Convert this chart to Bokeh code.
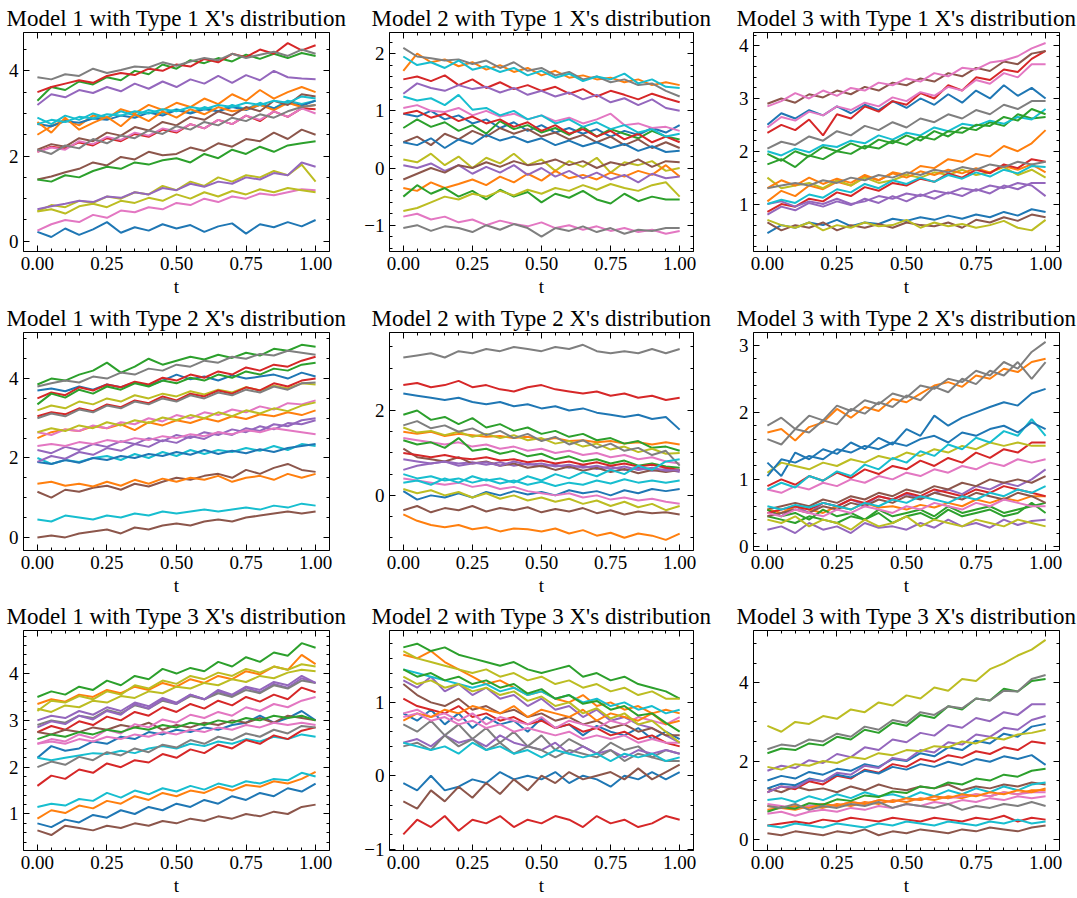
import numpy as np
from bokeh.plotting import figure
from bokeh.layouts import gridplot
from bokeh.models import Range1d, FixedTicker, LinearAxis, PrintfTickFormatter
from bokeh.embed import file_html
from bokeh.resources import INLINE

t_values = [0.00, 0.05, 0.10, 0.15, 0.20, 0.25, 0.30, 0.35, 0.40, 0.45, 0.50,
            0.55, 0.60, 0.65, 0.70, 0.75, 0.80, 0.85, 0.90, 0.95, 1.00]
x_ticks = [0.0, 0.25, 0.5, 0.75, 1.0]

m1_type1 = [
    "0.22 0.10 0.30 0.15 0.28 0.45 0.20 0.33 0.25 0.40 0.30 0.38 0.22 0.35 0.42 0.18 0.40 0.33 0.45 0.35 0.50",
    "2.50 2.70 2.85 2.72 2.95 2.88 3.10 3.00 3.20 3.08 3.25 3.15 3.35 3.22 3.45 3.30 3.55 3.35 3.50 3.62 3.50",
    "3.30 3.62 3.55 3.75 3.68 3.85 3.78 4.00 3.92 4.15 4.05 4.25 4.18 4.30 4.22 4.38 4.28 4.40 4.30 4.42 4.35",
    "3.50 3.62 3.70 3.78 3.72 3.88 3.95 3.90 4.05 4.00 4.15 4.10 4.28 4.20 4.40 4.32 4.50 4.40 4.65 4.48 4.60",
    "3.20 3.45 3.38 3.55 3.48 3.62 3.52 3.70 3.58 3.75 3.62 3.80 3.70 3.88 3.72 3.90 3.78 4.00 3.85 3.82 3.80",
    "1.45 1.52 1.62 1.70 1.85 1.78 1.98 1.92 2.10 2.02 2.05 2.20 2.12 2.30 2.22 2.40 2.35 2.55 2.40 2.62 2.50",
    "0.25 0.40 0.50 0.45 0.62 0.55 0.72 0.68 0.80 0.75 0.90 0.85 1.00 0.92 1.05 1.00 1.12 1.08 1.15 1.22 1.20",
    "3.85 3.80 3.92 3.88 4.05 3.95 4.02 4.10 4.08 4.20 4.12 4.22 4.30 4.25 4.40 4.30 4.38 4.45 4.35 4.50 4.40",
    "0.70 0.85 0.80 0.95 0.90 1.05 1.00 1.15 1.10 1.30 1.20 1.40 1.30 1.50 1.40 1.55 1.50 1.65 1.55 1.80 1.40",
    "2.90 2.75 2.95 2.85 3.00 2.90 3.05 2.95 3.08 3.00 3.10 3.02 3.15 3.05 3.20 3.10 3.25 3.12 3.30 3.22 3.30",
    "2.75 2.70 2.82 2.78 2.88 2.85 2.95 2.90 3.02 2.95 3.08 3.00 3.10 3.05 3.15 3.08 3.20 3.12 3.25 3.18 3.30",
    "2.80 2.55 2.90 2.62 2.78 2.92 2.70 2.98 2.82 3.05 2.90 3.10 2.98 3.15 3.05 3.10 3.20 3.08 3.25 3.15 3.20",
    "1.45 1.40 1.55 1.50 1.65 1.75 1.70 1.85 1.80 1.90 1.95 1.85 2.05 1.95 2.15 2.05 2.22 2.10 2.25 2.30 2.35",
    "2.10 2.22 2.18 2.32 2.25 2.42 2.35 2.52 2.45 2.62 2.55 2.75 2.65 2.85 2.75 2.95 2.82 3.05 2.92 3.12 3.10",
    "0.75 0.82 0.88 0.95 0.92 1.05 1.02 1.15 1.10 1.25 1.20 1.35 1.28 1.40 1.35 1.50 1.45 1.60 1.55 1.85 1.75",
    "2.15 2.28 2.22 2.42 2.35 2.55 2.48 2.68 2.60 2.80 2.72 2.92 2.85 3.05 2.95 3.15 3.05 3.30 3.20 3.45 3.40",
    "2.10 2.20 2.15 2.35 2.28 2.45 2.38 2.55 2.48 2.65 2.58 2.75 2.65 2.85 2.75 2.95 2.85 3.05 2.92 3.12 3.00",
    "2.15 2.05 2.25 2.18 2.40 2.30 2.48 2.42 2.60 2.52 2.70 2.62 2.80 2.72 2.90 2.82 2.98 2.90 3.05 3.15 3.20",
    "0.70 0.75 0.65 0.82 0.88 0.80 0.95 0.90 1.02 0.95 1.10 1.00 1.15 1.05 1.18 1.10 1.22 1.15 1.25 1.20 1.15",
    "2.75 2.85 2.80 2.92 2.88 2.98 2.95 3.05 3.00 3.10 3.05 3.15 3.10 3.20 3.15 3.25 3.20 3.30 3.25 3.40 3.35",
]

m2_type1 = [
    "0.95 0.90 1.00 0.85 0.92 0.78 0.85 0.70 0.80 0.65 0.75 0.62 0.70 0.60 0.68 0.55 0.65 0.58 0.70 0.62 0.75",
    "1.70 2.00 1.85 1.90 1.78 1.85 1.72 1.80 1.68 1.75 1.62 1.70 1.58 1.62 1.55 1.58 1.50 1.55 1.45 1.50 1.45",
    "0.70 0.85 0.72 0.80 0.65 0.75 0.60 0.82 0.68 0.75 0.62 0.70 0.58 0.72 0.55 0.68 0.60 0.52 0.65 0.55 0.50",
    "1.55 1.60 1.52 1.62 1.45 1.55 1.40 1.50 1.38 1.45 1.35 1.42 1.30 1.38 1.25 1.35 1.28 1.20 1.30 1.22 1.15",
    "1.30 1.48 1.40 1.35 1.45 1.38 1.42 1.32 1.40 1.28 1.35 1.25 1.32 1.20 1.28 1.15 1.22 1.10 1.20 1.05 1.00",
    "0.45 0.55 0.40 0.60 0.50 0.65 0.55 0.70 0.60 0.68 0.55 0.62 0.50 0.58 0.45 0.55 0.40 0.50 0.35 0.45 0.35",
    "1.05 1.10 1.00 0.98 1.05 0.92 1.00 0.90 0.95 0.85 0.92 0.82 0.88 0.78 0.85 0.95 0.75 0.78 0.70 0.72 0.65",
    "2.10 1.95 1.92 1.88 1.90 1.82 1.88 1.75 1.85 1.70 1.75 1.62 1.68 1.55 1.60 1.50 1.55 1.45 1.48 1.35 1.25",
    "0.15 0.10 0.25 0.05 0.20 0.00 0.18 0.08 0.25 0.05 0.15 -0.05 0.12 0.02 0.18 -0.08 0.10 0.05 0.12 -0.05 0.00",
    "1.95 1.80 1.85 1.75 1.88 1.72 1.78 1.68 1.75 1.62 1.70 1.58 1.65 1.52 1.60 1.55 1.65 1.48 1.55 1.42 1.40",
    "0.45 0.40 0.52 0.35 0.50 0.42 0.58 0.48 0.55 0.45 0.52 0.40 0.48 0.38 0.45 0.35 0.42 0.30 0.38 0.28 0.30",
    "-0.35 -0.40 -0.25 -0.35 -0.28 -0.20 -0.30 -0.15 -0.25 -0.10 -0.22 -0.05 -0.18 -0.12 -0.20 -0.08 -0.15 -0.05 -0.12 0.05 -0.15",
    "-0.50 -0.30 -0.45 -0.35 -0.50 -0.40 -0.55 -0.38 -0.50 -0.42 -0.60 -0.45 -0.52 -0.40 -0.55 -0.62 -0.45 -0.58 -0.50 -0.55 -0.55",
    "0.95 1.00 0.88 0.95 0.82 0.90 0.78 0.85 0.72 0.80 0.65 0.75 0.60 0.68 0.55 0.65 0.50 0.60 0.45 0.55 0.45",
    "0.05 0.00 0.08 -0.05 0.05 -0.10 0.02 -0.08 0.05 -0.12 0.00 -0.15 -0.05 -0.18 -0.08 -0.20 -0.12 -0.25 -0.10 -0.18 -0.15",
    "-0.20 -0.10 0.00 -0.08 0.05 0.00 0.10 0.02 0.12 0.05 0.08 0.15 0.05 0.12 0.00 0.10 0.05 0.15 0.02 0.12 0.10",
    "-0.85 -0.80 -0.90 -0.85 -0.95 -0.90 -1.00 -0.92 -0.98 -1.02 -0.95 -1.05 -1.00 -1.08 -1.02 -1.10 -1.05 -1.12 -1.08 -1.15 -1.10",
    "-1.05 -1.00 -1.10 -1.02 -1.05 -1.12 -1.00 -1.08 -0.98 -1.05 -1.20 -1.05 -1.10 -1.02 -1.12 -1.05 -1.15 -1.08 -1.10 -1.05 -1.05",
    "-0.75 -0.70 -0.60 -0.50 -0.55 -0.45 -0.50 -0.40 -0.48 -0.38 -0.45 -0.35 -0.40 -0.30 -0.38 -0.28 -0.35 -0.40 -0.30 -0.25 -0.50",
    "1.25 1.18 1.22 1.10 1.28 1.02 1.05 0.92 1.00 0.85 0.92 0.78 0.85 0.72 0.80 0.68 0.75 0.62 0.68 0.55 0.60",
]

m3_type1 = [
    "2.50 2.72 2.62 2.78 2.68 2.85 2.72 2.88 2.78 2.95 2.82 3.00 2.88 3.08 2.92 3.15 3.00 3.25 3.05 3.20 3.00",
    "1.05 1.25 1.15 1.35 1.28 1.42 1.35 1.52 1.45 1.60 1.55 1.72 1.68 1.85 1.80 1.95 1.90 2.10 2.00 2.15 2.40",
    "1.95 1.82 2.00 1.90 2.08 2.00 2.15 2.05 2.22 2.15 2.30 2.20 2.38 2.28 2.45 2.40 2.55 2.48 2.70 2.62 2.65",
    "2.35 2.50 2.40 2.60 2.30 2.70 2.62 2.85 2.75 2.95 2.88 3.10 3.00 3.25 3.15 3.40 3.35 3.55 3.50 3.75 3.90",
    "0.80 0.95 0.88 1.02 0.95 1.05 0.98 1.10 1.02 1.15 1.05 1.18 1.10 1.22 1.15 1.28 1.20 1.35 1.28 1.40 1.40",
    "2.90 3.00 2.92 3.08 3.02 3.15 3.08 3.22 3.15 3.30 3.25 3.38 3.32 3.48 3.42 3.58 3.52 3.70 3.65 3.85 3.90",
    "2.85 2.95 3.10 3.00 3.15 3.05 3.20 3.15 3.30 3.25 3.38 3.32 3.48 3.42 3.58 3.55 3.68 3.72 3.80 3.95 4.05",
    "2.05 2.18 2.12 2.28 2.20 2.38 2.30 2.48 2.40 2.55 2.45 2.62 2.55 2.70 2.62 2.78 2.70 2.88 2.80 2.95 2.95",
    "1.50 1.30 1.35 1.40 1.30 1.45 1.35 1.50 1.40 1.45 1.55 1.50 1.60 1.55 1.65 1.55 1.60 1.70 1.55 1.65 1.50",
    "2.00 1.92 2.05 1.98 2.12 2.08 2.20 2.15 2.30 2.22 2.35 2.30 2.45 2.38 2.52 2.48 2.58 2.52 2.65 2.60 2.80",
    "0.45 0.60 0.55 0.65 0.60 0.70 0.58 0.65 0.62 0.72 0.68 0.75 0.70 0.78 0.72 0.80 0.75 0.85 0.78 0.90 0.85",
    "1.30 1.45 1.35 1.50 1.38 1.48 1.40 1.55 1.45 1.58 1.50 1.62 1.55 1.65 1.58 1.68 1.60 1.72 1.65 1.75 1.60",
    "1.75 1.85 1.70 1.92 1.85 2.00 1.95 2.10 2.05 2.20 2.12 2.28 2.22 2.38 2.35 2.50 2.48 2.65 2.58 2.80 2.70",
    "0.85 1.00 0.95 1.10 1.05 1.22 1.15 1.32 1.25 1.40 1.35 1.48 1.42 1.58 1.50 1.65 1.58 1.75 1.68 1.85 1.80",
    "1.00 1.05 0.95 1.05 1.00 1.10 1.00 1.05 1.15 1.10 1.20 1.15 1.25 1.20 1.30 1.25 1.35 1.30 1.40 1.35 1.15",
    "0.65 0.50 0.60 0.55 0.65 0.50 0.60 0.55 0.62 0.55 0.65 0.60 0.58 0.65 0.55 0.70 0.65 0.75 0.68 0.80 0.75",
    "2.45 2.65 2.58 2.75 2.68 2.85 2.78 2.92 2.85 3.02 2.95 3.12 3.05 3.22 3.15 3.35 3.28 3.48 3.40 3.65 3.65",
    "1.30 1.35 1.40 1.35 1.45 1.40 1.50 1.45 1.55 1.50 1.60 1.55 1.65 1.60 1.70 1.65 1.75 1.70 1.80 1.75 1.80",
    "0.70 0.60 0.55 0.65 0.50 0.60 0.55 0.65 0.58 0.60 0.70 0.55 0.65 0.58 0.62 0.55 0.60 0.68 0.55 0.50 0.70",
    "1.00 1.08 1.02 1.18 1.12 1.28 1.22 1.38 1.30 1.45 1.38 1.50 1.42 1.55 1.48 1.60 1.52 1.65 1.58 1.72 1.70",
]

m1_type2 = [
    "3.70 3.75 3.68 3.80 3.72 3.85 3.78 3.90 3.82 3.95 4.10 3.98 4.05 3.95 4.08 4.00 4.05 4.10 4.00 4.15 4.05",
    "2.50 2.65 2.72 2.68 2.80 2.75 2.85 2.70 2.90 2.82 2.95 2.88 3.00 2.92 3.05 2.98 3.10 3.05 3.15 3.08 3.20",
    "3.85 4.00 3.95 4.10 4.20 4.40 4.15 4.30 4.50 4.35 4.45 4.55 4.48 4.60 4.52 4.65 4.58 4.75 4.70 4.85 4.80",
    "3.50 3.65 3.58 3.78 3.70 3.85 3.78 3.92 3.85 4.02 3.95 4.10 4.02 4.18 4.10 4.28 4.20 4.35 4.30 4.45 4.55",
    "2.20 2.12 2.28 2.20 2.35 2.28 2.42 2.35 2.50 2.42 2.58 2.50 2.65 2.58 2.72 2.65 2.80 2.72 2.88 2.85 2.95",
    "1.15 1.00 1.20 1.15 1.25 1.30 1.20 1.35 1.28 1.40 1.50 1.45 1.55 1.60 1.50 1.70 1.60 1.75 1.85 1.70 1.65",
    "2.65 2.58 2.72 2.68 2.82 2.75 2.90 2.85 3.00 2.92 3.08 3.00 3.15 3.08 3.22 3.15 3.30 3.22 3.38 3.35 3.45",
    "3.80 3.88 3.95 3.90 4.05 4.00 4.15 4.10 4.25 4.20 4.35 4.30 4.45 4.40 4.55 4.50 4.62 4.58 4.70 4.65 4.60",
    "3.20 3.32 3.25 3.42 3.35 3.50 3.42 3.58 3.50 3.62 3.55 3.68 3.60 3.72 3.65 3.78 3.70 3.82 3.75 3.88 3.85",
    "2.00 1.85 1.95 1.90 2.00 2.05 1.95 2.10 2.00 2.15 2.05 2.20 2.10 2.20 2.15 2.25 2.18 2.30 2.20 2.35 2.30",
    "1.90 1.85 1.95 1.88 2.00 1.95 2.05 2.00 2.10 2.05 2.15 2.08 2.20 2.10 2.18 2.12 2.22 2.15 2.25 2.30 2.35",
    "1.35 1.40 1.30 1.35 1.28 1.40 1.30 1.45 1.35 1.48 1.40 1.50 1.45 1.55 1.40 1.50 1.55 1.45 1.60 1.50 1.60",
    "3.35 3.62 3.52 3.72 3.62 3.80 3.72 3.88 3.80 3.95 3.88 4.02 3.95 4.10 4.02 4.18 4.10 4.25 4.20 4.35 4.40",
    "3.05 3.15 3.10 3.25 3.18 3.35 3.28 3.45 3.38 3.55 3.45 3.62 3.55 3.70 3.62 3.78 3.70 3.88 3.80 3.95 4.00",
    "1.90 2.05 1.98 2.15 2.08 2.25 2.18 2.35 2.28 2.45 2.38 2.55 2.48 2.65 2.58 2.75 2.68 2.85 2.80 2.95 3.00",
    "0.00 0.05 0.00 0.10 0.15 0.20 0.10 0.25 0.20 0.30 0.35 0.30 0.40 0.45 0.40 0.50 0.55 0.60 0.65 0.60 0.65",
    "2.30 2.35 2.30 2.40 2.35 2.45 2.40 2.50 2.45 2.55 2.50 2.60 2.55 2.65 2.60 2.70 2.65 2.75 2.70 2.65 2.60",
    "3.00 3.12 3.05 3.22 3.15 3.32 3.25 3.42 3.35 3.50 3.42 3.58 3.50 3.65 3.58 3.72 3.65 3.80 3.72 3.88 3.90",
    "2.65 2.75 2.68 2.82 2.75 2.90 2.82 2.95 2.88 3.02 2.95 3.08 3.00 3.15 3.05 3.20 3.12 3.25 3.18 3.32 3.40",
    "0.45 0.40 0.55 0.50 0.45 0.55 0.50 0.60 0.55 0.65 0.60 0.65 0.70 0.65 0.70 0.75 0.70 0.80 0.75 0.85 0.80",
]

m2_type2 = [
    "2.40 2.35 2.30 2.25 2.30 2.20 2.15 2.20 2.10 2.15 2.05 2.10 2.00 2.05 1.95 1.90 1.85 1.90 1.80 1.85 1.55",
    "1.50 1.45 1.50 1.40 1.45 1.42 1.38 1.40 1.35 1.38 1.30 1.35 1.28 1.30 1.25 1.28 1.22 1.25 1.20 1.25 1.20",
    "1.90 2.00 1.78 1.85 1.68 1.82 1.60 1.68 1.52 1.60 1.45 1.52 1.38 1.45 1.30 1.35 1.22 1.28 1.12 1.15 1.05",
    "2.60 2.65 2.55 2.60 2.70 2.55 2.60 2.50 2.45 2.55 2.60 2.50 2.45 2.40 2.45 2.35 2.40 2.30 2.35 2.25 2.30",
    "0.85 0.80 0.75 0.80 0.75 0.78 0.72 0.78 0.70 0.75 0.68 0.72 0.65 0.70 0.62 0.68 0.60 0.65 0.58 0.62 0.55",
    "1.10 0.90 0.85 0.80 0.90 0.75 0.80 0.70 0.75 0.65 0.70 0.60 0.68 0.58 0.65 0.55 0.62 0.52 0.60 0.55 0.60",
    "1.35 1.30 1.25 1.20 1.25 1.15 1.20 1.10 1.15 1.05 1.10 1.00 1.05 0.95 1.00 0.90 0.95 0.85 0.90 0.80 0.75",
    "3.25 3.30 3.35 3.25 3.40 3.35 3.45 3.40 3.50 3.45 3.40 3.50 3.45 3.55 3.40 3.35 3.40 3.35 3.45 3.35 3.45",
    "1.60 1.48 1.52 1.42 1.50 1.38 1.45 1.35 1.42 1.30 1.35 1.22 1.28 1.15 1.22 1.08 1.15 1.02 1.10 0.98 1.00",
    "0.50 0.40 0.45 0.35 0.40 0.30 0.38 0.28 0.35 0.25 0.32 0.22 0.30 0.25 0.35 0.28 0.38 0.30 0.35 0.30 0.35",
    "0.10 -0.10 0.00 -0.05 0.05 -0.05 0.08 0.00 0.10 0.02 0.08 0.00 0.12 0.05 0.10 0.00 0.12 0.05 0.15 0.10 0.15",
    "-0.45 -0.60 -0.70 -0.75 -0.70 -0.80 -0.75 -0.85 -0.78 -0.80 -0.85 -0.78 -0.90 -0.82 -0.95 -0.88 -1.00 -0.90 -0.95 -1.05 -0.90",
    "1.30 1.20 1.25 1.12 1.35 1.05 1.10 0.98 1.05 0.92 0.98 0.85 0.92 0.80 0.85 0.75 0.82 0.70 0.75 0.68 0.65",
    "1.00 0.95 0.90 0.95 0.88 0.85 0.90 0.82 0.85 0.78 0.82 0.75 0.80 0.72 0.78 0.70 0.75 0.68 0.72 0.65 0.60",
    "0.60 0.70 0.75 0.80 0.70 0.75 0.78 0.70 0.80 0.72 0.75 0.68 0.72 0.65 0.70 0.62 0.68 0.60 0.65 0.58 0.60",
    "-0.35 -0.25 -0.40 -0.30 -0.35 -0.25 -0.38 -0.30 -0.35 -0.28 -0.40 -0.32 -0.38 -0.30 -0.42 -0.35 -0.45 -0.38 -0.42 -0.40 -0.45",
    "0.40 0.35 0.30 0.25 0.30 0.20 0.25 0.15 0.20 0.10 0.05 0.00 0.05 -0.05 0.00 -0.10 -0.05 -0.12 -0.08 -0.15 -0.20",
    "1.65 1.75 1.58 1.65 1.50 1.58 1.42 1.52 1.35 1.45 1.28 1.38 1.20 1.30 1.12 1.22 1.05 1.12 0.95 1.05 0.70",
    "0.15 0.05 0.12 0.00 0.08 -0.05 0.05 -0.08 0.00 -0.12 -0.05 -0.15 -0.08 -0.20 -0.12 -0.25 -0.15 -0.28 -0.20 -0.35 -0.25",
    "0.30 0.35 0.25 0.40 0.30 0.45 0.35 0.40 0.30 0.45 0.35 0.50 0.40 0.55 0.45 0.60 0.50 0.70 0.60 0.80 0.85",
]

m3_type2 = [
    "1.25 1.05 1.40 1.30 1.45 1.38 1.55 1.45 1.62 1.52 1.75 1.65 1.95 1.80 1.92 2.00 2.08 2.15 2.10 2.28 2.35",
    "1.70 1.75 1.58 1.78 1.85 2.05 1.92 2.08 2.02 2.20 2.15 2.28 2.40 2.45 2.38 2.55 2.50 2.65 2.60 2.75 2.80",
    "0.45 0.40 0.35 0.45 0.40 0.35 0.45 0.40 0.50 0.35 0.45 0.50 0.40 0.55 0.45 0.50 0.55 0.45 0.50 0.65 0.50",
    "0.90 1.00 0.92 1.05 0.98 1.10 1.02 1.15 1.08 1.20 1.15 1.28 1.20 1.32 1.25 1.40 1.32 1.45 1.40 1.55 1.55",
    "0.55 0.45 0.60 0.50 0.65 0.60 0.70 0.62 0.75 0.70 0.78 0.72 0.80 0.85 0.78 0.90 0.85 0.95 0.90 1.00 1.15",
    "0.55 0.60 0.65 0.60 0.70 0.65 0.75 0.70 0.80 0.75 0.85 0.80 0.90 0.85 0.95 0.90 1.00 0.95 1.00 0.95 1.05",
    "0.85 0.80 0.90 0.85 0.95 0.90 1.00 0.95 1.05 1.00 1.10 1.05 1.15 1.10 1.20 1.15 1.25 1.20 1.30 1.25 1.30",
    "1.80 1.92 1.75 1.95 1.88 2.10 2.02 2.18 2.12 2.28 2.22 2.40 2.35 2.50 2.45 2.62 2.55 2.75 2.65 2.90 3.05",
    "1.10 1.25 1.20 1.15 1.25 1.20 1.30 1.25 1.35 1.30 1.40 1.35 1.45 1.40 1.50 1.45 1.55 1.50 1.55 1.50 1.50",
    "0.85 0.95 0.88 1.05 0.98 1.12 1.05 1.22 1.15 1.32 1.25 1.42 1.35 1.52 1.45 1.62 1.55 1.72 1.65 1.90 1.65",
    "1.05 1.30 1.25 1.35 1.30 1.45 1.40 1.50 1.45 1.55 1.50 1.60 1.65 1.55 1.70 1.65 1.75 1.80 1.70 1.85 1.75",
    "0.55 0.50 0.60 0.55 0.50 0.60 0.55 0.65 0.58 0.60 0.55 0.62 0.58 0.65 0.60 0.70 0.65 0.72 0.68 0.75 0.75",
    "0.55 0.45 0.50 0.40 0.55 0.45 0.50 0.40 0.55 0.45 0.50 0.55 0.45 0.60 0.50 0.55 0.60 0.50 0.55 0.60 0.65",
    "0.50 0.55 0.60 0.55 0.65 0.60 0.70 0.65 0.75 0.70 0.80 0.75 0.85 0.80 0.75 0.85 0.80 0.90 0.85 0.80 0.75",
    "0.25 0.30 0.20 0.35 0.25 0.30 0.20 0.35 0.28 0.30 0.25 0.35 0.28 0.40 0.30 0.35 0.28 0.40 0.32 0.38 0.40",
    "0.45 0.50 0.55 0.50 0.60 0.55 0.65 0.60 0.70 0.65 0.75 0.70 0.80 0.75 0.70 0.80 0.75 0.70 0.80 0.75 0.65",
    "0.50 0.45 0.55 0.50 0.45 0.55 0.50 0.60 0.55 0.50 0.60 0.55 0.65 0.60 0.55 0.65 0.60 0.70 0.65 0.60 0.60",
    "1.60 1.52 1.75 1.70 1.88 1.82 2.05 1.98 2.15 2.08 2.25 2.18 2.38 2.30 2.50 2.42 2.62 2.55 2.75 2.50 2.75",
    "0.40 0.35 0.45 0.30 0.40 0.35 0.25 0.40 0.30 0.35 0.45 0.30 0.40 0.35 0.30 0.40 0.35 0.30 0.40 0.35 0.30",
    "0.60 0.55 0.62 0.58 0.65 0.60 0.55 0.65 0.60 0.70 0.65 0.75 0.70 0.65 0.75 0.70 0.80 0.75 0.85 0.80 0.90",
]

m1_type3 = [
    "2.20 2.45 2.35 2.40 2.55 2.50 2.65 2.60 2.75 2.70 2.80 2.75 2.85 2.80 2.90 2.95 3.10 2.95 3.05 3.20 3.00",
    "3.35 3.45 3.40 3.55 3.50 3.65 3.58 3.72 3.65 3.80 3.72 3.88 3.80 3.95 3.88 4.05 3.98 4.15 4.08 4.40 4.20",
    "3.50 3.62 3.55 3.72 3.65 3.85 3.75 3.95 3.88 4.10 4.00 4.12 4.05 4.25 4.15 4.35 4.25 4.45 4.38 4.65 4.55",
    "2.75 2.88 2.80 2.98 2.90 3.08 3.00 3.18 3.10 3.28 3.18 3.35 3.25 3.42 3.32 3.50 3.40 3.55 3.45 3.70 3.60",
    "3.00 3.10 3.05 3.20 3.12 3.28 3.20 3.38 3.30 3.48 3.38 3.55 3.45 3.62 3.52 3.70 3.60 3.78 3.70 3.90 3.80",
    "2.75 2.70 2.80 2.75 2.85 2.80 2.90 2.85 2.95 2.80 2.90 2.85 2.95 2.90 3.00 2.95 3.05 2.95 3.10 3.05 3.00",
    "2.50 2.60 2.55 2.70 2.62 2.80 2.72 2.92 2.85 3.02 2.95 3.12 3.05 3.18 3.10 3.28 3.20 3.35 3.28 3.42 3.50",
    "2.90 3.00 2.95 3.10 3.05 3.22 3.15 3.32 3.25 3.42 3.35 3.52 3.45 3.58 3.50 3.65 3.58 3.75 3.68 3.85 3.80",
    "3.25 3.18 3.32 3.28 3.42 3.38 3.52 3.48 3.62 3.58 3.72 3.68 3.80 3.75 3.88 3.82 3.95 3.90 4.02 4.08 4.05",
    "2.20 2.15 2.20 2.25 2.30 2.28 2.35 2.30 2.40 2.45 2.40 2.50 2.45 2.55 2.50 2.60 2.55 2.65 2.60 2.70 2.65",
    "0.80 0.72 0.88 0.82 0.98 0.92 1.08 1.00 1.15 1.08 1.22 1.15 1.30 1.22 1.38 1.30 1.45 1.38 1.55 1.48 1.65",
    "0.90 1.08 1.02 1.18 1.12 1.28 1.22 1.38 1.30 1.45 1.38 1.50 1.45 1.58 1.50 1.62 1.58 1.70 1.65 1.75 1.90",
    "2.60 2.70 2.65 2.75 2.70 2.80 2.75 2.85 2.80 2.90 2.85 2.95 2.90 3.00 2.95 3.05 3.00 3.10 3.05 3.10 3.00",
    "1.60 1.82 1.75 1.95 1.88 2.08 2.00 2.15 2.10 2.28 2.20 2.38 2.30 2.48 2.40 2.58 2.50 2.68 2.60 2.78 2.85",
    "2.85 2.98 2.92 3.10 3.02 3.20 3.12 3.35 3.25 3.45 3.35 3.55 3.45 3.65 3.55 3.72 3.65 3.82 3.75 3.95 3.80",
    "0.65 0.55 0.75 0.70 0.65 0.75 0.70 0.80 0.75 0.85 0.80 0.90 0.85 0.95 0.90 1.00 0.95 1.05 1.00 1.15 1.20",
    "2.50 2.55 2.50 2.60 2.55 2.65 2.60 2.70 2.65 2.75 2.70 2.80 2.75 2.85 2.80 2.90 2.85 2.95 2.90 2.95 2.90",
    "2.00 2.12 2.05 2.22 2.15 2.32 2.25 2.40 2.32 2.48 2.42 2.58 2.50 2.65 2.58 2.72 2.65 2.80 2.72 2.88 2.85",
    "3.20 3.42 3.38 3.52 3.45 3.62 3.55 3.75 3.68 3.85 3.78 3.95 3.88 4.02 3.95 4.10 4.02 4.15 4.08 4.20 4.15",
    "1.15 1.22 1.18 1.32 1.28 1.45 1.35 1.50 1.42 1.55 1.48 1.60 1.52 1.65 1.58 1.70 1.65 1.75 1.72 1.88 1.80",
]

m2_type3 = [
    "0.85 0.75 0.90 0.70 0.85 0.65 0.80 0.70 0.75 0.60 0.78 0.65 0.70 0.55 0.68 0.60 0.55 0.65 0.50 0.60 0.50",
    "1.65 1.60 1.70 1.55 1.45 1.35 1.25 1.30 1.20 1.10 1.15 1.05 1.00 1.10 0.95 1.00 0.90 0.95 0.85 0.90 0.85",
    "1.75 1.80 1.70 1.75 1.65 1.60 1.55 1.50 1.55 1.45 1.40 1.45 1.50 1.35 1.40 1.30 1.35 1.25 1.20 1.15 1.05",
    "1.05 0.95 0.90 0.85 0.95 0.80 0.85 0.75 0.80 0.70 0.75 0.65 0.70 0.60 0.65 0.55 0.60 0.50 0.55 0.45 0.40",
    "1.30 1.20 1.35 1.15 1.25 1.10 1.20 1.05 1.10 0.95 1.05 0.90 0.95 0.80 0.90 0.75 0.80 0.70 0.65 0.55 0.45",
    "1.25 1.10 1.00 0.95 1.05 0.90 0.95 0.85 0.90 0.80 0.85 0.75 0.80 0.70 0.75 0.65 0.70 0.60 0.65 0.55 0.55",
    "0.85 0.90 0.80 0.85 0.75 0.85 0.70 0.80 0.75 0.70 0.80 0.65 0.75 0.70 0.65 0.75 0.70 0.80 0.75 0.70 0.80",
    "0.70 0.60 0.75 0.55 0.70 0.50 0.65 0.45 0.60 0.40 0.55 0.35 0.50 0.40 0.30 0.45 0.35 0.40 0.25 0.35 0.30",
    "1.70 1.60 1.55 1.50 1.45 1.40 1.45 1.35 1.40 1.30 1.35 1.25 1.30 1.20 1.25 1.15 1.20 1.10 1.15 1.05 1.05",
    "1.45 1.40 1.35 1.30 1.25 1.20 1.25 1.15 1.20 1.10 1.15 1.05 1.10 1.00 1.05 0.95 1.00 0.90 0.95 0.85 0.90",
    "-0.10 -0.20 0.00 -0.20 -0.15 -0.05 -0.10 0.05 -0.05 0.00 -0.05 0.05 -0.10 0.00 -0.05 -0.15 0.00 -0.05 0.05 -0.05 0.05",
    "0.75 0.85 0.80 0.90 0.85 0.95 0.90 0.85 0.95 0.80 0.90 0.85 0.80 0.90 0.75 0.85 0.80 0.75 0.85 0.70 0.75",
    "1.45 1.35 1.40 1.30 1.35 1.25 1.30 1.20 1.25 1.12 1.18 1.05 1.10 0.98 1.02 0.90 0.95 0.82 0.85 0.72 0.60",
    "-0.80 -0.60 -0.70 -0.55 -0.75 -0.60 -0.65 -0.55 -0.70 -0.60 -0.65 -0.55 -0.60 -0.70 -0.55 -0.65 -0.60 -0.70 -0.65 -0.55 -0.60",
    "0.45 0.50 0.40 0.55 0.45 0.50 0.40 0.55 0.45 0.40 0.35 0.45 0.30 0.40 0.30 0.35 0.25 0.35 0.30 0.35 0.30",
    "-0.35 -0.45 -0.20 -0.35 -0.15 -0.30 -0.10 -0.25 -0.05 -0.20 0.00 -0.10 0.05 -0.05 0.00 0.05 -0.05 0.10 -0.05 0.05 0.15",
    "0.80 0.85 0.75 0.80 0.70 0.75 0.65 0.70 0.60 0.65 0.60 0.55 0.60 0.50 0.55 0.50 0.55 0.45 0.50 0.45 0.45",
    "0.40 0.45 0.35 0.55 0.40 0.50 0.35 0.45 0.30 0.40 0.35 0.25 0.35 0.30 0.25 0.35 0.20 0.30 0.25 0.20 0.20",
    "1.35 1.25 1.30 1.20 1.25 1.15 1.20 1.10 1.15 1.02 1.08 0.95 1.00 0.85 0.92 0.78 0.85 0.70 0.75 0.60 0.45",
    "0.45 0.40 0.35 0.40 0.30 0.45 0.35 0.40 0.30 0.35 0.25 0.35 0.30 0.25 0.30 0.20 0.30 0.25 0.30 0.20 0.25",
]

m3_type3 = [
    "1.50 1.62 1.55 1.72 1.65 1.80 1.75 1.92 1.85 2.05 2.00 2.20 2.12 2.35 2.28 2.52 2.45 2.70 2.62 2.88 2.95",
    "0.85 0.80 0.75 0.85 0.80 0.90 0.85 0.95 0.90 1.00 0.95 1.05 1.00 1.10 1.05 1.15 1.10 1.20 1.15 1.25 1.25",
    "2.20 2.32 2.28 2.45 2.40 2.62 2.55 2.80 2.72 2.98 2.90 3.18 3.10 3.40 3.32 3.60 3.55 3.85 3.78 4.05 4.10",
    "1.20 1.35 1.28 1.48 1.40 1.62 1.55 1.78 1.70 1.92 1.85 2.05 1.98 2.15 2.08 2.25 2.18 2.35 2.28 2.50 2.45",
    "1.75 1.88 1.82 2.02 1.95 2.18 2.10 2.35 2.28 2.55 2.48 2.72 2.65 2.92 2.85 3.10 3.02 3.25 3.18 3.45 3.45",
    "1.30 1.20 1.35 1.25 1.30 1.20 1.35 1.25 1.40 1.30 1.25 1.35 1.30 1.40 1.25 1.35 1.30 1.40 1.35 1.45 1.40",
    "0.90 0.85 0.80 0.85 0.90 0.85 0.95 0.90 1.00 0.95 1.05 1.00 1.10 1.05 1.10 1.15 1.10 1.20 1.15 1.20 1.20",
    "2.30 2.42 2.38 2.55 2.50 2.70 2.62 2.88 2.80 3.05 2.98 3.25 3.18 3.40 3.35 3.60 3.55 3.80 3.78 4.10 4.20",
    "2.90 2.75 3.00 2.95 3.15 3.08 3.32 3.25 3.50 3.42 3.68 3.60 3.88 3.80 4.10 4.05 4.35 4.50 4.70 4.85 5.10",
    "1.00 1.05 0.95 1.10 1.00 1.15 1.05 1.20 1.10 1.15 1.05 1.20 1.10 1.25 1.15 1.30 1.20 1.35 1.25 1.40 1.45",
    "1.30 1.42 1.38 1.55 1.48 1.65 1.58 1.75 1.68 1.85 1.78 1.92 1.85 1.98 1.90 2.05 1.98 2.12 2.05 2.15 1.90",
    "0.75 0.80 0.85 0.80 0.90 0.85 0.95 0.90 1.00 0.95 1.05 1.00 1.10 1.05 1.15 1.10 1.20 1.15 1.25 1.20 1.30",
    "0.70 0.82 0.78 0.92 0.88 1.02 0.98 1.12 1.08 1.22 1.18 1.35 1.30 1.45 1.40 1.55 1.50 1.65 1.60 1.75 1.80",
    "0.35 0.40 0.45 0.40 0.50 0.45 0.55 0.50 0.45 0.55 0.50 0.45 0.55 0.50 0.45 0.55 0.50 0.60 0.45 0.55 0.50",
    "1.20 1.35 1.32 1.52 1.48 1.70 1.65 1.88 1.82 2.08 2.02 2.28 2.22 2.48 2.42 2.68 2.62 2.85 2.80 3.05 3.15",
    "0.15 0.10 0.20 0.15 0.10 0.20 0.15 0.25 0.10 0.20 0.15 0.25 0.20 0.15 0.25 0.20 0.30 0.25 0.20 0.30 0.35",
    "0.65 0.70 0.60 0.70 0.75 0.70 0.80 0.75 0.85 0.80 0.90 0.85 0.95 0.90 1.00 0.95 1.05 1.00 1.10 1.05 1.10",
    "0.85 0.80 0.90 0.75 0.85 0.80 0.90 0.85 0.95 0.80 0.90 0.85 0.80 0.90 0.75 0.85 0.80 0.90 0.85 0.95 0.85",
    "1.85 1.78 1.92 1.88 2.00 1.95 2.10 2.05 2.20 2.15 2.28 2.25 2.38 2.35 2.50 2.45 2.60 2.55 2.68 2.72 2.80",
    "0.35 0.30 0.40 0.35 0.30 0.40 0.35 0.30 0.40 0.35 0.45 0.40 0.35 0.45 0.40 0.35 0.45 0.40 0.50 0.40 0.45",
]

panel_data = [
    [m1_type1, m2_type1, m3_type1],
    [m1_type2, m2_type2, m3_type2],
    [m1_type3, m2_type3, m3_type3],
]
model_names = ["Model 1", "Model 2", "Model 3"]
type_names = ["Type 1", "Type 2", "Type 3"]

y_ticks = [
    [[0, 2, 4], [-1, 0, 1, 2], [1, 2, 3, 4]],
    [[0, 2, 4], [0, 2], [0, 1, 2, 3]],
    [[1, 2, 3, 4], [-1, 0, 1], [0, 2, 4]],
]
y_limits = [
    [(-0.24, 4.90), (-1.46, 2.37), (0.10, 4.25)],
    [(-0.33, 5.16), (-1.30, 3.84), (-0.06, 3.19)],
    [(0.22, 4.92), (-1.02, 1.98), (-0.29, 5.34)],
]

COLORS = ["#1f77b4", "#ff7f0e", "#2ca02c", "#d62728", "#9467bd",
          "#8c564b", "#e377c2", "#7f7f7f", "#bcbd22", "#17becf"]
FONT = "Liberation Serif"

col_width = 359
col_left = [23, 30, 35]
col_right = [30, 25, 18]
row_height = [299, 299, 300]
row_top = [32, 33, 32]
row_bottom = [46, 46, 44]


def minor_list(lo, hi, step):
    start = np.floor(lo / step) * step
    vals = np.arange(start, hi + step, step)
    return [float(round(v, 6)) for v in vals if lo <= v <= hi]


def style_axis(ax, show_labels):
    ax.major_tick_in = 6
    ax.major_tick_out = 0
    ax.minor_tick_in = 3
    ax.minor_tick_out = 0
    ax.major_tick_line_color = "black"
    ax.minor_tick_line_color = "black"
    ax.major_tick_line_width = 1
    ax.minor_tick_line_width = 1
    ax.axis_line_color = None
    if show_labels:
        ax.major_label_text_font = FONT
        ax.major_label_text_font_size = "19px"
        ax.major_label_text_color = "black"
        ax.major_label_standoff = 5
    else:
        ax.major_label_text_font_size = "0px"
        ax.major_label_standoff = 0
        ax.major_label_text_alpha = 0


figs = []
for r in range(3):
    row = []
    for c in range(3):
        lo, hi = y_limits[r][c]
        p = figure(width=col_width, height=row_height[r],
                   output_backend="svg", toolbar_location=None,
                   x_range=Range1d(-0.05, 1.05), y_range=Range1d(lo, hi),
                   min_border_left=col_left[c], min_border_right=col_right[c],
                   min_border_top=row_top[r], min_border_bottom=row_bottom[r])
        p.title.text = f"{model_names[c]} with {type_names[r]} X's distribution"
        p.title.text_font = FONT
        p.title.text_font_size = "23px"
        p.title.text_font_style = "normal"
        p.title.text_color = "black"
        p.title.align = "center"
        p.title.standoff = 4
        p.grid.visible = False
        p.outline_line_color = "black"
        p.outline_line_width = 1
        p.background_fill_color = "white"
        p.border_fill_color = "white"

        yt = y_ticks[r][c]
        ystep = yt[1] - yt[0]
        yminor_step = ystep / 4 if ystep == 2 else ystep / 5
        x_ticker = FixedTicker(ticks=x_ticks, minor_ticks=minor_list(-0.05, 1.05, 0.05))
        y_ticker = FixedTicker(ticks=yt, minor_ticks=minor_list(lo, hi, yminor_step))

        p.xaxis.ticker = x_ticker
        p.yaxis.ticker = y_ticker
        p.xaxis.formatter = PrintfTickFormatter(format="%.2f")
        p.yaxis.major_label_overrides = {v: ("\u2212" + str(abs(v))) for v in yt if v < 0}
        p.xaxis.axis_label = "t"
        p.xaxis.axis_label_text_font = FONT
        p.xaxis.axis_label_text_font_size = "19px"
        p.xaxis.axis_label_text_font_style = "normal"
        p.xaxis.axis_label_text_color = "black"
        p.xaxis.axis_label_standoff = 3
        style_axis(p.xaxis[0], True)
        style_axis(p.yaxis[0], True)

        top_ax = LinearAxis(ticker=x_ticker)
        right_ax = LinearAxis(ticker=y_ticker)
        style_axis(top_ax, False)
        style_axis(right_ax, False)
        p.add_layout(top_ax, "above")
        p.add_layout(right_ax, "right")

        series = panel_data[r][c]
        for i, s in enumerate(series):
            yv = [float(v) for v in s.split()]
            p.line(t_values, yv, line_color=COLORS[i % 10], line_width=2)
        row.append(p)
    figs.append(row)

grid = gridplot(figs, toolbar_location=None)
open("out.html", "w").write(file_html(grid, INLINE))
